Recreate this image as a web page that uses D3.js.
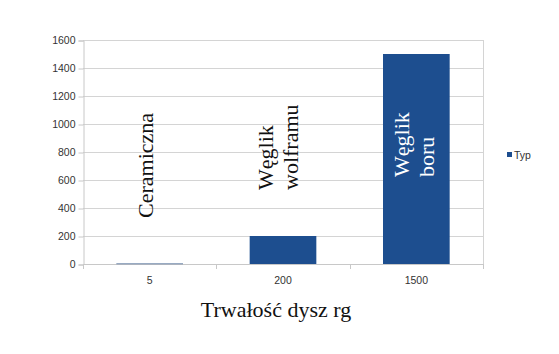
<!DOCTYPE html>
<html>
<head>
<meta charset="utf-8">
<script src="https://cdn.jsdelivr.net/npm/d3@7"></script>
<style>
  body { margin: 0; background: #fff; }
  svg { display: block; }
</style>
</head>
<body>
<svg width="559" height="354"></svg>
<script>
// data
var categories = ["5", "200", "1500"];
var values = [5, 200, 1500];
var barLabels = [["Ceramiczna"], ["Węglik", "wolframu"], ["Węglik", "boru"]];
var yTicks = [0, 200, 400, 600, 800, 1000, 1200, 1400, 1600];
var seriesName = "Typ";
var xTitle = "Trwałość dysz rg";

var svg = d3.select("svg");
// plot box (don't use "top" - clashes with window.top)
var plotL = 83, plotR = 483, plotT = 40, plotB = 264;
var barColor = "#1d4e8f";

var x = d3.scaleBand()
  .domain(categories)
  .range([plotL, plotR])
  .paddingInner(0.5)
  .paddingOuter(0.25);

var y = d3.scaleLinear().domain([0, 1600]).range([plotB, plotT]);

// grid lines
svg.append("g")
  .selectAll("line")
  .data(yTicks)
  .join("line")
  .attr("x1", plotL).attr("x2", plotR)
  .attr("y1", d => y(d) + 0.5).attr("y2", d => y(d) + 0.5)
  .attr("stroke", "#d4d4d4");

// right border
svg.append("line")
  .attr("x1", plotR + 0.5).attr("x2", plotR + 0.5)
  .attr("y1", plotT).attr("y2", plotB)
  .attr("stroke", "#d4d4d4");

// y axis
var yAxis = svg.append("g")
  .attr("transform", "translate(" + (plotL + 0.5) + ",0.5)")
  .call(d3.axisLeft(y).tickValues(yTicks).tickSize(5).tickPadding(3).tickFormat(d3.format("d")));
yAxis.select(".domain").attr("stroke", "#c8c8c8");
yAxis.selectAll(".tick line").attr("stroke", "#c8c8c8");
yAxis.selectAll("text")
  .attr("font-family", "Liberation Sans, Arial, sans-serif")
  .attr("font-size", "10.5px")
  .attr("fill", "#333");

// x axis: ticks at band edges
svg.append("line")
  .attr("x1", plotL).attr("x2", plotR)
  .attr("y1", plotB + 0.5).attr("y2", plotB + 0.5)
  .attr("stroke", "#c8c8c8");
var edges = d3.range(categories.length + 1).map(i => plotL + i * (plotR - plotL) / categories.length);
svg.append("g")
  .selectAll("line")
  .data(edges)
  .join("line")
  .attr("x1", d => Math.round(d) + 0.5).attr("x2", d => Math.round(d) + 0.5)
  .attr("y1", plotB).attr("y2", plotB + 5)
  .attr("stroke", "#c8c8c8");

svg.append("g")
  .selectAll("text")
  .data(categories)
  .join("text")
  .attr("x", d => x(d) + x.bandwidth() / 2)
  .attr("y", plotB + 20)
  .attr("text-anchor", "middle")
  .attr("font-family", "Liberation Sans, Arial, sans-serif")
  .attr("font-size", "10.5px")
  .attr("fill", "#333")
  .text(d => d);

// bars
svg.append("g")
  .selectAll("rect")
  .data(values)
  .join("rect")
  .attr("x", (d, i) => x(categories[i]))
  .attr("y", d => y(d))
  .attr("width", x.bandwidth())
  .attr("height", d => Math.max(1, plotB - y(d)))
  .attr("fill", (d, i) => i === 0 ? "#6d86a8" : barColor);

// rotated labels inside / above bars
var labelBottom = [218, 190, 177];
var labelBase = [3, -10, -7];
barLabels.forEach(function(lines, i) {
  var cx = x(categories[i]) + x.bandwidth() / 2 + labelBase[i];
  var g = svg.append("g")
    .attr("transform", "translate(" + cx + "," + labelBottom[i] + ") rotate(-90)");
  g.selectAll("text")
    .data(lines)
    .join("text")
    .attr("x", 0)
    .attr("y", (d, j) => j * 25)
    .attr("font-family", "Liberation Serif, Times New Roman, serif")
    .attr("font-size", "22px")
    .attr("fill", i === 2 ? "#fff" : "#111")
    .text(d => d);
});

// x title
svg.append("text")
  .attr("x", 276)
  .attr("y", 317)
  .attr("text-anchor", "middle")
  .attr("font-family", "Liberation Serif, Times New Roman, serif")
  .attr("font-size", "22px")
  .attr("fill", "#111")
  .text(xTitle);

// legend
svg.append("rect")
  .attr("x", 507).attr("y", 152)
  .attr("width", 5).attr("height", 5)
  .attr("fill", barColor);
svg.append("text")
  .attr("x", 514).attr("y", 158.5)
  .attr("font-family", "Liberation Sans, Arial, sans-serif")
  .attr("font-size", "10.5px")
  .attr("fill", "#333")
  .text(seriesName);
</script>
</body>
</html>
